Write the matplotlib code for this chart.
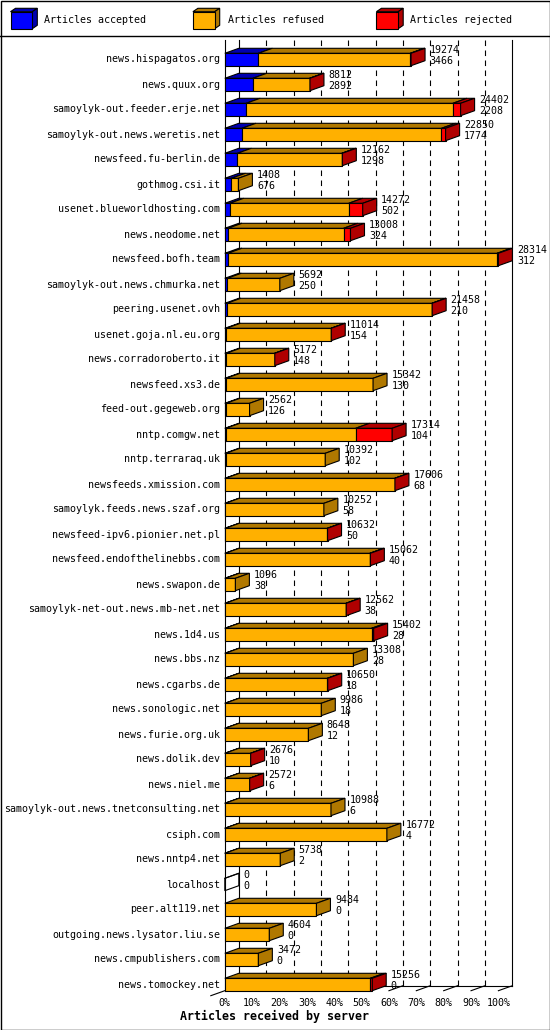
import numpy as np
import matplotlib
matplotlib.use('Agg')
import matplotlib.pyplot as plt
from matplotlib.patches import Polygon, Rectangle

servers = ['news.hispagatos.org', 'news.quux.org', 'samoylyk-out.feeder.erje.net',
           'samoylyk-out.news.weretis.net', 'newsfeed.fu-berlin.de', 'gothmog.csi.it',
           'usenet.blueworldhosting.com', 'news.neodome.net', 'newsfeed.bofh.team',
           'samoylyk-out.news.chmurka.net', 'peering.usenet.ovh', 'usenet.goja.nl.eu.org',
           'news.corradoroberto.it', 'newsfeed.xs3.de', 'feed-out.gegeweb.org',
           'nntp.comgw.net', 'nntp.terraraq.uk', 'newsfeeds.xmission.com',
           'samoylyk.feeds.news.szaf.org', 'newsfeed-ipv6.pionier.net.pl',
           'newsfeed.endofthelinebbs.com', 'news.swapon.de', 'samoylyk-net-out.news.mb-net.net',
           'news.1d4.us', 'news.bbs.nz', 'news.cgarbs.de', 'news.sonologic.net',
           'news.furie.org.uk', 'news.dolik.dev', 'news.niel.me',
           'samoylyk-out.news.tnetconsulting.net', 'csiph.com', 'news.nntp4.net',
           'localhost', 'peer.alt119.net', 'outgoing.news.lysator.liu.se',
           'news.cmpublishers.com', 'news.tomockey.net']
total = [19274, 8812, 24402, 22850, 12162, 1408, 14272, 13008, 28314, 5692, 21458, 11014,
         5172, 15342, 2562, 17314, 10392, 17606, 10252, 10632, 15062, 1096, 12562, 15402,
         13308, 10650, 9986, 8648, 2676, 2572, 10988, 16772, 5738, 0, 9484, 4604, 3472, 15256]
accepted = [3466, 2892, 2208, 1774, 1298, 676, 502, 324, 312, 250, 210, 154, 148, 130, 126,
            104, 102, 68, 58, 50, 40, 38, 38, 28, 28, 18, 18, 12, 10, 6, 6, 4, 2, 0, 0, 0, 0, 0]
# (not printed on the chart)
rejected = [80, 40, 800, 430, 60, 0, 1450, 720, 140, 0, 30, 20, 20, 0, 0, 3780, 0, 20, 0, 20,
            60, 0, 20, 220, 0, 40, 0, 0, 10, 10, 0, 0, 0, 0, 0, 0, 0, 200]
legend_names = ['Articles accepted', 'Articles refused', 'Articles rejected']
ticks = [0, 10, 20, 30, 40, 50, 60, 70, 80, 90, 100]

total = np.array(total, float)
accepted = np.array(accepted, float)
rejected = np.array(rejected, float)
refused = total - accepted - rejected

front = ['#0000ff', '#ffb000', '#ff0000']
dark = ['#0000b0', '#b07800', '#b00000']

W, H = 550, 1030
X0, XW = 224.8, 273.6      # front 0% and width of 0..100%
Y0, ROW = 59.5, 25.0       # first row centre, row pitch
PXU = XW / 100.0           # pixels per percent
DX = 14 / PXU              # 3d depth in data units
DY = -5 / ROW
HALF = 6.2 / ROW

plt.rcParams['font.family'] = 'DejaVu Sans Mono'
plt.rcParams['font.size'] = 7.2

fig = plt.figure(figsize=(W / 100, H / 100), dpi=100)
ax = fig.add_axes([0, 0, 1, 1])
ax.axis('off')
ax.set_xlim(-X0 / PXU, (W - X0) / PXU)
ax.set_ylim((H - Y0) / ROW, -Y0 / ROW)

n = len(servers)
top = (40 - Y0) / ROW
floor_f = (n - 1) + HALF
floor_b = floor_f + DY
lw = 0.8

# walls and grid
for p in ticks[1:-1]:
    ax.plot([p + DX, p + DX], [top, floor_b], color='black', lw=lw,
            dashes=(5, 4), zorder=1)
ax.plot([0, 0], [top, floor_f], color='black', lw=lw, zorder=1)
ax.plot([DX, DX], [top, floor_b], color='black', lw=lw, zorder=1)
ax.plot([100 + DX, 100 + DX], [top, floor_b], color='black', lw=lw, zorder=1)
ax.plot([DX, 100 + DX], [floor_b, floor_b], color='black', lw=lw, zorder=1)
ax.plot([100, 100 + DX], [floor_f, floor_b], color='black', lw=lw, zorder=1)
ax.plot([-DX, DX], [floor_f - DY, floor_b], color='black', lw=lw, zorder=1)
for p in ticks[1:-1]:
    ax.plot([p, p + DX], [floor_f, floor_b], color='black', lw=lw, zorder=1)

scale = 100.0 / total.max()
for i in range(n):
    segs = [accepted[i] * scale, refused[i] * scale, rejected[i] * scale]
    y1, y2 = i - HALF, i + HALF
    x = 0.0
    last = None
    for k, w in enumerate(segs):
        if w <= 0:
            continue
        ax.add_patch(Polygon([(x, y1), (x + w, y1), (x + w + DX, y1 + DY), (x + DX, y1 + DY)],
                             closed=True, fc=dark[k], ec='black', lw=lw, zorder=2))
        ax.add_patch(Rectangle((x, y1), w, y2 - y1, fc=front[k], ec='black', lw=lw, zorder=3))
        x += w
        last = k
    side = Polygon([(x, y1), (x + DX, y1 + DY), (x + DX, y2 + DY), (x, y2)], closed=True,
                   fc=dark[last] if last is not None else 'none', ec='black', lw=lw, zorder=3)
    ax.add_patch(side)
    if last is None:
        ax.plot([x, x + DX], [y1, y1 + DY], color='black', lw=lw, zorder=3)
    tx = x + DX + 4.5 / PXU
    ax.text(tx, i - 0.37, '%d' % total[i], ha='left', va='center', zorder=4)
    ax.text(tx, i + 0.06, '%d' % accepted[i], ha='left', va='center', zorder=4)
    ax.text(-4.5 / PXU, i, servers[i], ha='right', va='center')

for p in ticks:
    ax.text(p, (1002.5 - Y0) / ROW, '%d%%' % p, ha='center', va='center')

fig.text(0.5, 1 - 1016.5 / H, 'Articles received by server', ha='center', va='center',
         fontsize=8.4, fontweight='bold')

# legend and frame, drawn in pixel units
lg = fig.add_axes([0, 0, 1, 1], zorder=5)
lg.axis('off')
lg.set_xlim(0, W)
lg.set_ylim(H, 0)
lg.patch.set_alpha(0)
lg.add_patch(Rectangle((0.5, 0.5), W - 1, H - 1, fill=False, ec='black', lw=1))
lg.plot([0, W], [35.5, 35.5], color='black', lw=1)
for k, (x0, tx) in enumerate([(10.5, 44.2), (192.9, 228.0), (376.4, 410.4)]):
    fw, fh, ddx, ddy = 21.8, 17.0, 5.0, 3.4
    ya, yb = 11.7, 28.7
    lg.add_patch(Polygon([(x0, ya), (x0 + fw, ya), (x0 + fw + ddx, ya - ddy), (x0 + ddx, ya - ddy)],
                         closed=True, fc=dark[k], ec='black', lw=lw))
    lg.add_patch(Polygon([(x0 + fw, ya), (x0 + fw + ddx, ya - ddy), (x0 + fw + ddx, yb - ddy),
                          (x0 + fw, yb)], closed=True, fc=dark[k], ec='black', lw=lw))
    lg.add_patch(Rectangle((x0, ya), fw, yb - ya, fc=front[k], ec='black', lw=lw))
    lg.text(tx, 20, legend_names[k], ha='left', va='center')

fig.savefig('out.png', dpi=100, facecolor='white')
